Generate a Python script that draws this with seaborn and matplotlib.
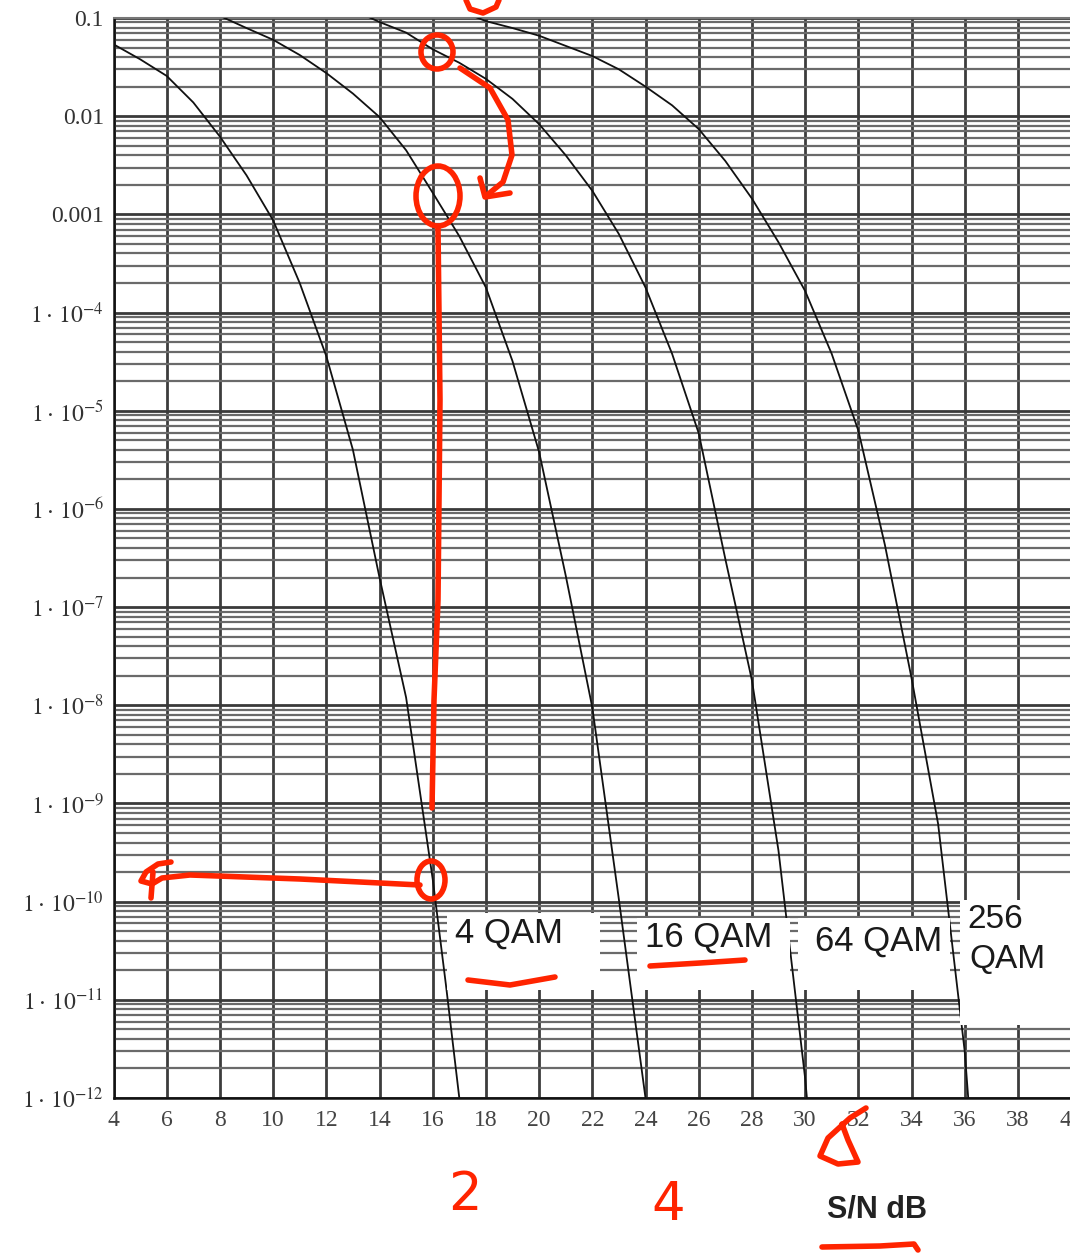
import numpy as np
import pandas as pd
import matplotlib
matplotlib.use("Agg")
import matplotlib.pyplot as plt
import seaborn as sns
from matplotlib.patches import Ellipse, Rectangle
from matplotlib.lines import Line2D
from matplotlib.ticker import LogLocator, NullFormatter, NullLocator

# ---------------- data ----------------
schemes = ["4 QAM", "16 QAM", "64 QAM", "256 QAM"]

snr_4qam = [4, 5, 6, 7, 8, 9, 10, 11, 12, 13, 14, 15, 16, 16.5, 17, 17.3]
ber_4qam = [5.4e-2, 3.8e-2, 2.57e-2, 1.38e-2, 6.2e-3, 2.5e-3, 8.7e-4, 2.0e-4,
            3.6e-5, 4.0e-6, 2.0e-7, 1.2e-8, 1.7e-10, 1.4e-11, 1.0e-12, 2.0e-13]

snr_16qam = [8, 9, 10, 11, 12, 13, 14, 15, 16, 17, 18, 19, 20, 21, 22, 23, 24, 24.3]
ber_16qam = [1.05e-1, 7.9e-2, 6.0e-2, 4.2e-2, 2.75e-2, 1.7e-2, 9.8e-3, 4.5e-3,
             1.66e-3, 6.0e-4, 1.8e-4, 3.2e-5, 3.8e-6, 2.1e-7, 9.5e-9, 1.05e-10,
             1.0e-12, 2.0e-13]

snr_64qam = [13.5, 14, 15, 16, 17, 18, 19, 20, 21, 22, 23, 24, 25, 26, 27, 28,
             29, 30, 30.3]
ber_64qam = [1.05e-1, 9.1e-2, 7.1e-2, 4.8e-2, 3.5e-2, 2.4e-2, 1.5e-2, 8.3e-3,
             4.0e-3, 1.74e-3, 6.3e-4, 1.8e-4, 3.8e-5, 5.9e-6, 3.1e-7, 1.8e-8,
             3.3e-10, 1.6e-12, 2.0e-13]

snr_256qam = [17.5, 18, 19, 20, 21, 22, 23, 24, 25, 26, 27, 28, 29, 30, 31, 32,
              33, 34, 35, 36, 36.3]
ber_256qam = [1.05e-1, 9.3e-2, 7.9e-2, 6.6e-2, 5.2e-2, 4.1e-2, 3.0e-2, 2.0e-2,
              1.29e-2, 7.4e-3, 3.5e-3, 1.45e-3, 5.2e-4, 1.66e-4, 3.8e-5, 6.3e-6,
              4.3e-7, 1.9e-8, 6.2e-10, 3.0e-12, 2.5e-13]

xtick_values = [4, 6, 8, 10, 12, 14, 16, 18, 20, 22, 24, 26, 28, 30, 32, 34, 36, 38, 40]
ytick_values = [1e-12, 1e-11, 1e-10, 1e-9, 1e-8, 1e-7, 1e-6, 1e-5, 1e-4, 1e-3, 1e-2, 1e-1]
ytick_labels = [r"$1\cdot\,10^{-12}$", r"$1\cdot\,10^{-11}$", r"$1\cdot\,10^{-10}$",
                r"$1\cdot\,10^{-9}$", r"$1\cdot\,10^{-8}$", r"$1\cdot\,10^{-7}$",
                r"$1\cdot\,10^{-6}$", r"$1\cdot\,10^{-5}$", r"$1\cdot\,10^{-4}$",
                "0.001", "0.01", "0.1"]
x_label = "S/N dB"

# ---------------- style ----------------
sns.set_style("white")
plt.rcParams["font.family"] = ["Liberation Serif", "DejaVu Serif"]
plt.rcParams["mathtext.fontset"] = "stix"

W, H = 1070, 1258
fig = plt.figure(figsize=(W / 100, H / 100), dpi=100)
fig.patch.set_facecolor("white")
ax = fig.add_axes([113.5 / W, 1 - 1098 / H, 957.6 / W, 1080 / H])

df = pd.concat([
    pd.DataFrame({"snr": snr_4qam, "ber": ber_4qam, "scheme": schemes[0]}),
    pd.DataFrame({"snr": snr_16qam, "ber": ber_16qam, "scheme": schemes[1]}),
    pd.DataFrame({"snr": snr_64qam, "ber": ber_64qam, "scheme": schemes[2]}),
    pd.DataFrame({"snr": snr_256qam, "ber": ber_256qam, "scheme": schemes[3]}),
], ignore_index=True)

sns.lineplot(data=df, x="snr", y="ber", hue="scheme", estimator=None, sort=False,
             palette={s: "#111111" for s in schemes}, legend=False, lw=1.3, ax=ax,
             zorder=3)

ax.set_yscale("log")
ax.set_xlim(4, 40)
ax.set_ylim(1e-12, 1e-1)
ax.set_xticks(xtick_values)
ax.set_xticklabels([str(v) for v in xtick_values])
ax.set_yticks(ytick_values)
ax.set_yticklabels(ytick_labels)
ax.yaxis.set_minor_locator(LogLocator(base=10, subs=range(2, 10), numticks=200))
ax.yaxis.set_minor_formatter(NullFormatter())
ax.xaxis.set_minor_locator(NullLocator())
ax.set_xlabel("")
ax.set_ylabel("")

ax.set_axisbelow(True)
ax.grid(True, which="major", axis="x", color="#3c3c3c", lw=2.0)
ax.grid(True, which="major", axis="y", color="#3a3a3a", lw=2.0)
ax.grid(True, which="minor", axis="y", color="#6a6a6a", lw=1.6)
ax.tick_params(which="both", length=0)
ax.tick_params(axis="y", labelsize=17, pad=7, colors="#333333")
ax.tick_params(axis="x", labelsize=17, pad=9, colors="#444444")

for side in ["left", "bottom"]:
    ax.spines[side].set_color("#111111")
    ax.spines[side].set_linewidth(1.8)
ax.spines["top"].set_color("#777777")
ax.spines["top"].set_linewidth(1.5)
ax.spines["right"].set_visible(False)


def P(px, py):
    return px / W, 1 - py / H


# ---------------- curve labels in white boxes ----------------
boxes = [(447, 913, 600, 990), (637, 918, 790, 990), (798, 918, 950, 990),
         (960, 900, 1072, 1025)]
for (x0, y0, x1, y1) in boxes:
    fx, fy = P(x0, y1)
    fig.add_artist(Rectangle((fx, fy), (x1 - x0) / W, (y1 - y0) / H,
                             transform=fig.transFigure, facecolor="white",
                             edgecolor="none", zorder=4))

lab_kw = dict(transform=fig.transFigure, fontsize=25, family="Liberation Sans",
              color="#1a1a1a", va="center", ha="left", zorder=5)
fig.text(*P(455, 933), "4 QAM", **lab_kw)
fig.text(*P(645, 937), "16 QAM", **lab_kw)
fig.text(*P(815, 941), "64 QAM", **lab_kw)
lab_kw["fontsize"] = 24
fig.text(*P(967, 920), "256", **lab_kw)
fig.text(*P(969, 960), "QAM", **lab_kw)

fig.text(*P(877, 1210), x_label, transform=fig.transFigure, fontsize=22,
         family="Liberation Sans", weight="bold", color="#222222",
         ha="center", va="center", zorder=5)

# ---------------- red pen annotations ----------------
RED = "#ff2400"
LW = 4.0


def pen(points, lw=LW):
    xs = [p[0] / W for p in points]
    ys = [1 - p[1] / H for p in points]
    fig.add_artist(Line2D(xs, ys, transform=fig.transFigure, color=RED, lw=lw,
                          solid_capstyle="round", solid_joinstyle="round",
                          zorder=10))


def ring(cx, cy, w, h):
    fx, fy = P(cx, cy)
    fig.add_artist(Ellipse((fx, fy), w / W, h / H, transform=fig.transFigure,
                           fill=False, edgecolor=RED, lw=LW, zorder=10))


pen([(466, 0), (470, 9), (483, 13), (496, 7), (499, 0)])
ring(437, 52, 32, 34)
pen([(460, 68), (490, 88), (508, 120), (512, 155), (503, 182), (486, 196)])
pen([(480, 178), (485, 197), (510, 193)])
ring(438, 196, 44, 60)
pen([(438, 228), (440, 400), (438, 600), (434, 700), (432, 808)])
ring(431, 880, 28, 38)
# handwritten "4" joined to the horizontal line
pen([(171, 862), (158, 864), (146, 872), (141, 881), (152, 884), (162, 878),
     (190, 875), (300, 879), (420, 885)])
pen([(153, 872), (151, 898)])
pen([(468, 980), (510, 985), (555, 977)])
pen([(650, 966), (700, 963), (745, 960)])
pen([(822, 1247), (880, 1246), (914, 1244), (918, 1250)])
hand_kw = dict(transform=fig.transFigure, color=RED, fontsize=38,
               family="DejaVu Sans", ha="center", va="center", zorder=10)
fig.text(*P(465, 1195), "2", **hand_kw)
fig.text(*P(668, 1205), "4", **hand_kw)
pen([(866, 1108), (850, 1118), (828, 1138), (820, 1156), (838, 1164),
     (858, 1162), (848, 1140), (842, 1124)])

fig.savefig("out.png", dpi=100, facecolor="white")
